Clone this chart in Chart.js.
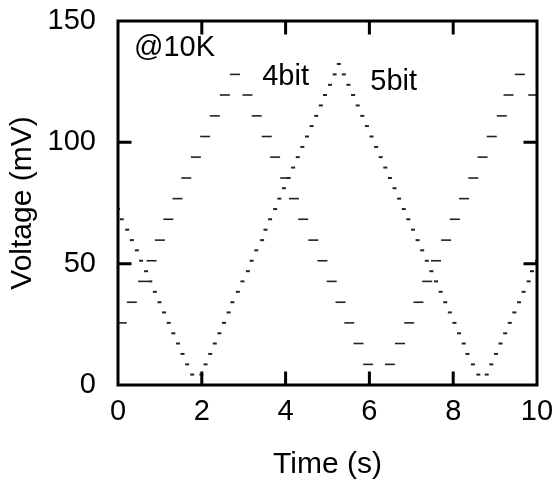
<!DOCTYPE html>
<html><head><meta charset="utf-8">
<script src="https://cdn.jsdelivr.net/npm/chart.js@4/dist/chart.umd.min.js"></script>
<style>html,body{margin:0;padding:0;background:#fff}#wrap{width:553px;height:481px}</style>
</head><body><div id="wrap"><canvas id="c" width="553" height="481"></canvas></div>
<script>
// ---- data ----
const time4bit = [0.09,0.33,0.60,0.80,1.00,1.20,1.42,1.63,1.86,2.08,2.31,2.55,2.79,
  3.09,3.31,3.55,3.75,3.99,4.20,4.42,4.66,4.88,5.10,5.31,5.52,5.74,5.97,6.21,
  6.49,6.73,6.95,7.17,7.38,7.59,7.83,8.04,8.26,8.48,8.70,8.92,9.16,9.32,9.59,9.91];
const volt4bit = [25.6,34.1,42.7,51.2,59.7,68.3,76.8,85.3,93.9,102.4,110.9,119.5,128.0,
  119.5,110.9,102.4,93.9,85.3,76.8,68.3,59.7,51.2,42.7,34.1,25.6,17.1,8.5,0.0,
  8.5,17.1,25.6,34.1,42.7,51.2,59.7,68.3,76.8,85.3,93.9,102.4,110.9,119.5,128.0,119.5];
const time5bit = [0.00,0.09,0.22,0.33,0.45,0.55,0.67,0.77,0.88,0.99,1.10,1.21,1.32,1.43,1.54,1.65,1.77,1.85,
  1.99,2.09,2.20,2.31,2.42,2.53,2.64,2.73,2.86,2.97,3.10,3.19,3.30,3.44,3.52,3.63,3.75,3.85,3.96,4.07,4.18,4.29,4.40,4.51,4.62,4.73,4.84,4.94,5.06,5.17,5.27,
  5.39,5.50,5.61,5.72,5.83,5.94,6.05,6.16,6.27,6.38,6.49,6.60,6.71,6.82,6.93,7.04,7.15,7.26,7.37,7.48,7.59,7.70,7.81,7.92,8.03,8.14,8.25,8.34,8.47,8.60,8.69,
  8.80,8.91,9.02,9.13,9.24,9.35,9.46,9.57,9.68,9.80,9.88,10.0];
const volt5bit = [72.5,68.3,64.0,59.7,55.5,51.2,46.9,42.7,38.4,34.1,29.9,25.6,21.3,17.1,12.8,8.5,4.3,0.0,
  4.3,8.5,12.8,17.1,21.3,25.6,29.9,34.1,38.4,42.7,46.9,51.2,55.5,59.7,64.0,68.3,72.5,76.8,81.1,85.3,89.6,93.9,98.1,102.4,106.7,110.9,115.2,119.5,123.7,128.0,132.3,
  128.0,123.7,119.5,115.2,110.9,106.7,102.4,98.1,93.9,89.6,85.3,81.1,76.8,72.5,68.3,64.0,59.7,55.5,51.2,46.9,42.7,38.4,34.1,29.9,25.6,21.3,17.1,12.8,8.5,4.3,0.0,
  4.3,8.5,12.8,17.1,21.3,25.6,29.9,34.1,38.4,42.7,46.9,51.2];
const xTicks = [0,2,4,6,8,10];
const yTicks = [0,50,100,150];
const xTitle = 'Time (s)';
const yTitle = 'Voltage (mV)';
const noteTexts = ['@10K','4bit','5bit'];
const noteTimes = [1.35,4.0,6.58];
const noteVolts = [139,127,125];

// ---- chart ----
const FONT = "'Liberation Sans', Arial, Helvetica, sans-serif";
const toXY = (xs, ys) => xs.map((x,i)=>({x:x, y:ys[i]}));

const framePlugin = {
  id:'frame',
  afterDraw(chart){
    const {ctx, chartArea:a, scales:{x, y}} = chart;
    ctx.save();
    ctx.strokeStyle = '#000';
    ctx.lineWidth = 3;
    ctx.lineCap = 'butt';
    const TL = 13.5;
    ctx.beginPath();
    xTicks.slice(1,-1).forEach(v=>{
      const px = x.getPixelForValue(v);
      ctx.moveTo(px, a.bottom); ctx.lineTo(px, a.bottom-TL);
      ctx.moveTo(px, a.top); ctx.lineTo(px, a.top+TL);
    });
    yTicks.slice(1,-1).forEach(v=>{
      const py = y.getPixelForValue(v);
      ctx.moveTo(a.left, py); ctx.lineTo(a.left+TL, py);
      ctx.moveTo(a.right, py); ctx.lineTo(a.right-TL, py);
    });
    ctx.stroke();
    ctx.strokeRect(a.left, a.top, a.right-a.left, a.bottom-a.top);
    ctx.fillStyle = '#000';
    ctx.font = '29px ' + FONT;
    ctx.textAlign = 'center';
    ctx.textBaseline = 'middle';
    noteTexts.forEach((t,i)=>{
      ctx.fillText(t, x.getPixelForValue(noteTimes[i]), y.getPixelForValue(noteVolts[i]));
    });
    ctx.restore();
  }
};

new Chart(document.getElementById('c'), {
  type:'scatter',
  data:{datasets:[
    {label:'4bit', data:toXY(time4bit, volt4bit), pointStyle:'line', pointRadius:5,
     pointBorderWidth:1.6, borderColor:'#222', backgroundColor:'#222', showLine:false},
    {label:'5bit', data:toXY(time5bit, volt5bit), pointStyle:'line', pointRadius:2,
     pointBorderWidth:2, borderColor:'#222', backgroundColor:'#222', showLine:false}
  ]},
  options:{
    responsive:false, animation:false, devicePixelRatio:1,
    layout:{padding:{left:0, right:16, top:21, bottom:0}},
    plugins:{legend:{display:false}, tooltip:{enabled:false}},
    scales:{
      x:{type:'linear', min:0, max:10,
        afterBuildTicks:s=>{s.ticks = xTicks.map(v=>({value:v}));},
        afterFit:s=>{s.height = 96; s.paddingLeft = 0; s.paddingRight = 0;},
        grid:{display:false, drawTicks:false}, border:{display:false},
        ticks:{padding:10, color:'#000', font:{family:FONT, size:29}, maxRotation:0},
        title:{display:true, text:xTitle, color:'#000', font:{family:FONT, size:30}, padding:{top:0,bottom:-2}}
      },
      y:{type:'linear', min:0, max:150,
        afterBuildTicks:s=>{s.ticks = yTicks.map(v=>({value:v}));},
        afterFit:s=>{s.width = 118; s.paddingTop = 0; s.paddingBottom = 0;},
        grid:{display:false, drawTicks:false}, border:{display:false},
        ticks:{padding:22, color:'#000', font:{family:FONT, size:29}},
        title:{display:true, text:yTitle, color:'#000', font:{family:FONT, size:30}, padding:{top:5,bottom:0}}
      }
    }
  },
  plugins:[framePlugin]
});
</script>
</body></html>
